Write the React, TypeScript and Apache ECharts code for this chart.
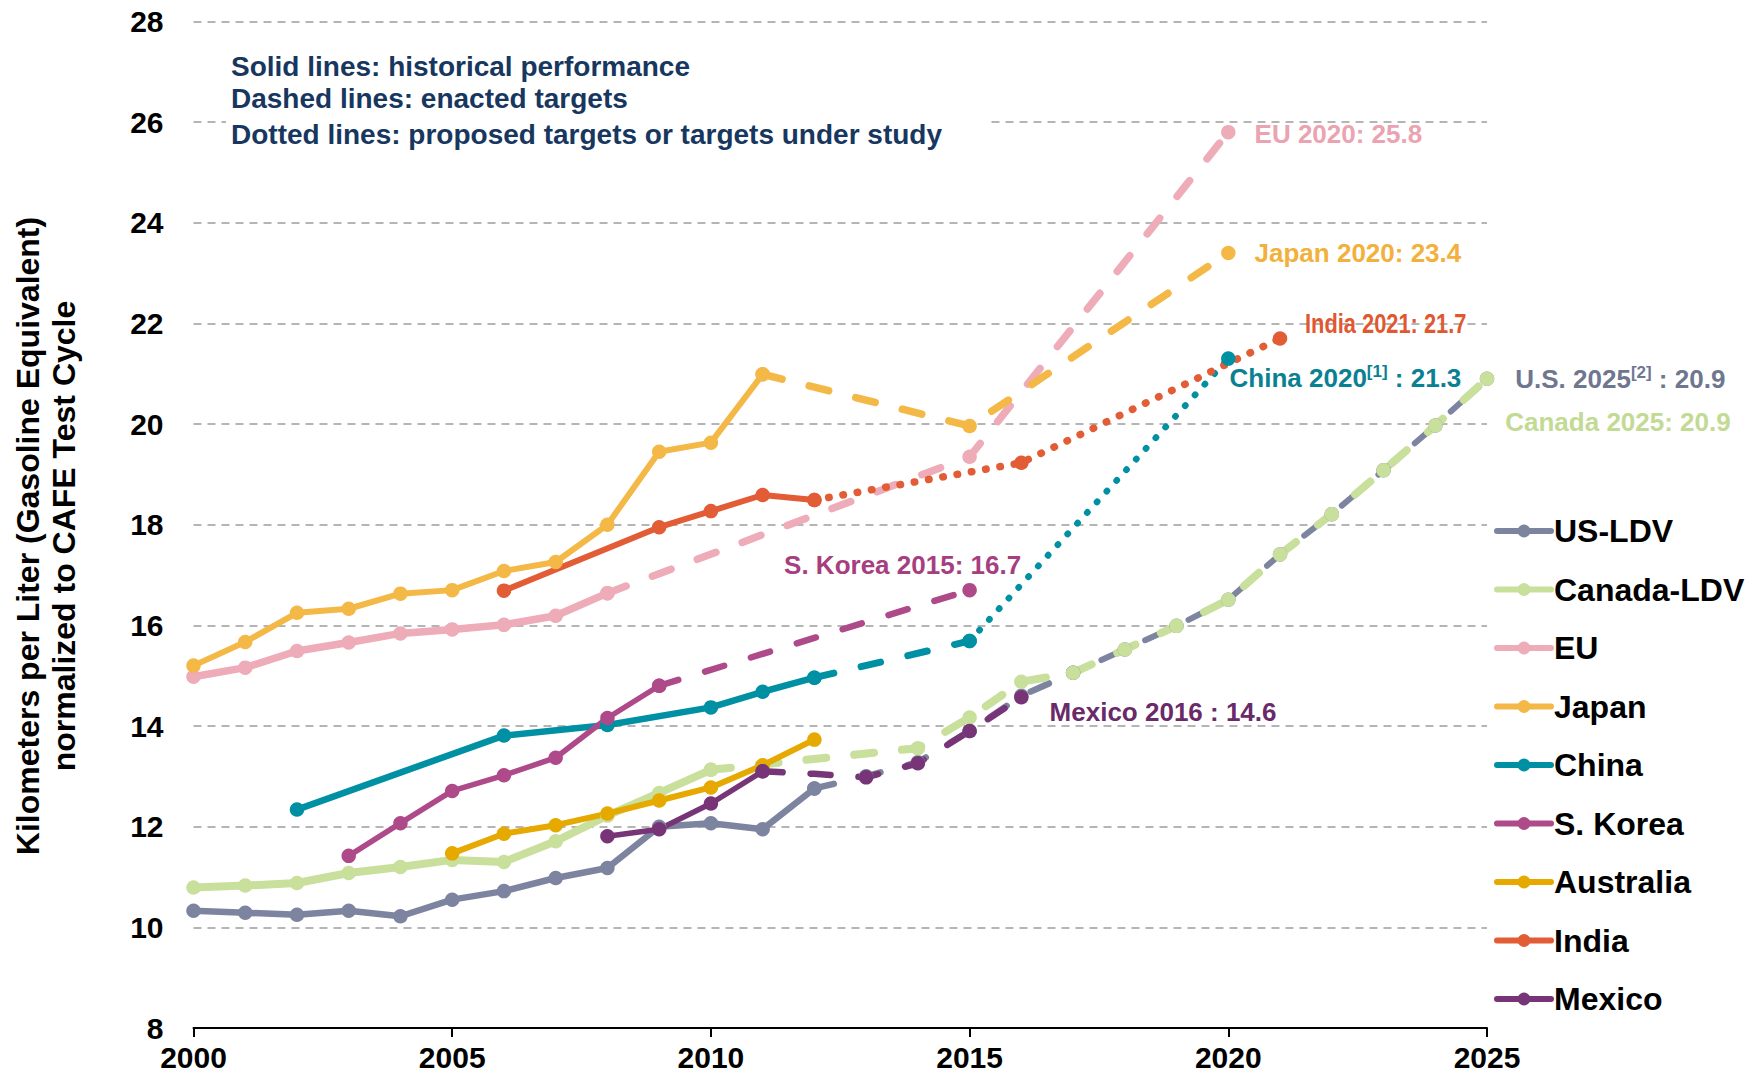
import React, { useEffect, useRef } from "react";
import * as echarts from "echarts";

const FONT = "'Liberation Sans', Arial, Helvetica, sans-serif";

// ---- axes ----
const xMin = 2000;
const xMax = 2025;
const xStep = 5;
const yMin = 8;
const yMax = 28;
const yStep = 2;

// ---- legend / series names ----
const seriesNames = ["US-LDV", "Canada-LDV", "EU", "Japan", "China", "S. Korea", "Australia", "India", "Mexico"];
const seriesColors = ["#7d849f", "#c9df9c", "#eeabb8", "#f4b847", "#0090a3", "#ae4a89", "#e5a900", "#e25d36", "#773578"];
const labelColors = ["#6f7690", "#c2da94", "#eba3b1", "#f2b03c", "#0a8193", "#a63e80", "#e5a900", "#df5832", "#6a2a69"];

// ---- US-LDV ----
const usHistYears = [2000, 2001, 2002, 2003, 2004, 2005, 2006, 2007, 2008, 2009, 2010, 2011, 2012];
const usHistValues = [10.33, 10.29, 10.25, 10.33, 10.22, 10.55, 10.72, 10.98, 11.18, 12.0, 12.07, 11.95, 12.76];
const usTargetYears = [2012, 2013, 2014, 2015, 2016, 2017, 2018, 2019, 2020, 2021, 2022, 2023, 2024, 2025];
const usTargetValues = [12.76, 13.0, 13.28, 13.9, 14.6, 15.06, 15.52, 15.99, 16.51, 17.41, 18.21, 19.08, 19.97, 20.9];

// ---- Canada-LDV ----
const caHistYears = [2000, 2001, 2002, 2003, 2004, 2005, 2006, 2007, 2008, 2009, 2010];
const caHistValues = [10.79, 10.83, 10.88, 11.08, 11.2, 11.34, 11.3, 11.71, 12.22, 12.67, 13.13];
const caTargetYears = [2010, 2014, 2015, 2016, 2017, 2018, 2019, 2020, 2021, 2022, 2023, 2024, 2025];
const caTargetValues = [13.13, 13.56, 14.17, 14.88, 15.06, 15.52, 15.99, 16.51, 17.41, 18.21, 19.08, 19.97, 20.9];

// ---- EU ----
const euHistYears = [2000, 2001, 2002, 2003, 2004, 2005, 2006, 2007, 2008];
const euHistValues = [14.98, 15.16, 15.49, 15.66, 15.84, 15.92, 16.01, 16.19, 16.64];
const euTargetYears = [2008, 2015, 2020];
const euTargetValues = [16.64, 19.35, 25.8];

// ---- Japan ----
const jpHistYears = [2000, 2001, 2002, 2003, 2004, 2005, 2006, 2007, 2008, 2009, 2010, 2011];
const jpHistValues = [15.2, 15.67, 16.25, 16.33, 16.63, 16.7, 17.08, 17.26, 18.0, 19.45, 19.63, 20.99];
const jpTargetYears = [2011, 2015, 2020];
const jpTargetValues = [20.99, 19.96, 23.4];

// ---- China ----
const cnHistYears = [2002, 2006, 2008, 2010, 2011, 2012];
const cnHistValues = [12.34, 13.81, 14.02, 14.37, 14.68, 14.96];
const cnTargetYears = [2012, 2015];
const cnTargetValues = [14.96, 15.69];
const cnProposedYears = [2015, 2020];
const cnProposedValues = [15.69, 21.3];

// ---- S. Korea ----
const krHistYears = [2003, 2004, 2005, 2006, 2007, 2008, 2009];
const krHistValues = [11.42, 12.07, 12.71, 13.02, 13.37, 14.16, 14.8];
const krTargetYears = [2009, 2015];
const krTargetValues = [14.8, 16.7];

// ---- Australia ----
const auHistYears = [2005, 2006, 2007, 2008, 2009, 2010, 2011, 2012];
const auHistValues = [11.47, 11.86, 12.03, 12.26, 12.52, 12.78, 13.22, 13.73];

// ---- India ----
const inHistYears = [2006, 2009, 2010, 2011, 2012];
const inHistValues = [16.69, 17.95, 18.27, 18.59, 18.49];
const inProposedYears = [2012, 2016, 2021];
const inProposedValues = [18.49, 19.23, 21.7];

// ---- Mexico ----
const mxHistYears = [2008, 2009, 2010, 2011];
const mxHistValues = [11.81, 11.95, 12.46, 13.1];
const mxTargetYears = [2011, 2012, 2013, 2014, 2015, 2016];
const mxTargetValues = [13.1, 13.05, 12.98, 13.26, 13.9, 14.57];

// ---- texts ----
const noteLines = [
  "Solid lines: historical performance",
  "Dashed lines: enacted targets",
  "Dotted lines: proposed targets or targets under study",
];
const yTitle = "Kilometers per Liter (Gasoline Equivalent)\nnormalized to CAFE Test Cycle";

const pairs = (xs: number[], ys: number[]) => xs.map((x, i) => [x, ys[i]]);

const DASH = [20, 28];
const DASH_PERIOD = 48;
const DOT = [0.5, 14];
const SPLIT_YEAR = 2017; // where the US target line starts to run on top of Canada's

function mkSeries(
  idx: number,
  xs: number[],
  ys: number[],
  kind: "solid" | "dashed" | "dotted",
  width: number,
  opts: any = {}
) {
  const color = seriesColors[idx];
  const data: any[] = pairs(xs, ys).map((p) => ({ value: p }));
  if (opts.noSymbolAt) {
    data.forEach((d) => {
      if (opts.noSymbolAt.includes(d.value[0])) d.symbol = "none";
    });
  }
  if (opts.endLabel) {
    const last = data[data.length - 1];
    last.label = Object.assign(
      {
        show: true,
        color: labelColors[idx],
        fontSize: 26,
        fontWeight: "bold",
        fontFamily: FONT,
      },
      opts.endLabel
    );
  }
  return {
    type: "line",
    id: opts.id,
    name: seriesNames[idx],
    data,
    symbol: "circle",
    symbolSize: 14.5,
    showSymbol: true,
    color,
    itemStyle: { color },
    lineStyle: {
      color,
      width,
      type: kind === "solid" ? "solid" : kind === "dashed" ? DASH : DOT,
      cap: "round",
      join: "round",
      dashOffset: opts.dashOffset || 0,
    },
    emphasis: { disabled: true },
    silent: true,
  };
}

export default function App() {
  const ref = useRef<HTMLDivElement>(null);

  useEffect(() => {
    if (!ref.current) return;
    const chart = echarts.init(ref.current, undefined, { renderer: "svg" });

    const fmt1 = (v: any) => Number(v).toFixed(1);
    const labelFmt = (prefix: string) => (p: any) => `${prefix}${fmt1(p.value[1])}`;

    const splitIdx = usTargetYears.indexOf(SPLIT_YEAR);
    const usT1Years = usTargetYears.slice(0, splitIdx + 1);
    const usT1Values = usTargetValues.slice(0, splitIdx + 1);
    const usT2Years = usTargetYears.slice(splitIdx);
    const usT2Values = usTargetValues.slice(splitIdx);

    const supRich = (c: string) => ({
      a: { fontSize: 26, fontWeight: "bold", color: c, fontFamily: FONT, lineHeight: 30 },
      s: { fontSize: 17, fontWeight: "bold", color: c, fontFamily: FONT, lineHeight: 18, verticalAlign: "top" },
    });

    const series: any[] = [
      // US-LDV
      mkSeries(0, usHistYears, usHistValues, "solid", 6.5),
      mkSeries(0, usT1Years, usT1Values, "dashed", 6.5),
      mkSeries(0, usT2Years, usT2Values, "dashed", 6, {
        id: "usT2",
        endLabel: {
          position: "right",
          distance: 21,
          formatter: (p: any) => `{a|U.S. 2025}{s|[2]}{a| : ${fmt1(p.value[1])}}`,
          rich: supRich(labelColors[0]),
        },
      }),
      // Canada
      mkSeries(1, caHistYears, caHistValues, "solid", 8),
      mkSeries(1, caTargetYears, caTargetValues, "dashed", 8, {
        endLabel: { position: "right", distance: 11, offset: [0, 43], formatter: labelFmt("Canada 2025: ") },
      }),
      // EU
      mkSeries(2, euHistYears, euHistValues, "solid", 7.5),
      mkSeries(2, euTargetYears, euTargetValues, "dashed", 7.5, {
        endLabel: { position: "right", distance: 19, offset: [0, 2], formatter: labelFmt("EU 2020: ") },
      }),
      // Japan
      mkSeries(3, jpHistYears, jpHistValues, "solid", 6),
      mkSeries(3, jpTargetYears, jpTargetValues, "dashed", 7.5, {
        endLabel: { position: "right", distance: 19, formatter: labelFmt("Japan 2020: ") },
      }),
      // China
      mkSeries(4, cnHistYears, cnHistValues, "solid", 6.5),
      mkSeries(4, cnTargetYears, cnTargetValues, "dashed", 7),
      mkSeries(4, cnProposedYears, cnProposedValues, "dotted", 6.5, {
        endLabel: {
          position: "right",
          distance: 0,
          offset: [-6, 19],
          formatter: (p: any) => `{a|China 2020}{s|[1]}{a| : ${fmt1(p.value[1])}}`,
          rich: supRich(labelColors[4]),
        },
      }),
      // S. Korea
      mkSeries(5, krHistYears, krHistValues, "solid", 5.5),
      mkSeries(5, krTargetYears, krTargetValues, "dashed", 6.5, {
        endLabel: { position: "inside", offset: [-67, -25], formatter: labelFmt("S. Korea 2015: ") },
      }),
      // Australia
      mkSeries(6, auHistYears, auHistValues, "solid", 6),
      // India
      mkSeries(7, inHistYears, inHistValues, "solid", 6),
      mkSeries(7, inProposedYears, inProposedValues, "dotted", 7.5),
      // Mexico
      mkSeries(8, mxHistYears, mxHistValues, "solid", 5.5),
      mkSeries(8, mxTargetYears, mxTargetValues, "dashed", 6.5, {
        noSymbolAt: [2012],
        endLabel: { position: "right", distance: 21, offset: [0, 15], formatter: labelFmt("Mexico 2016 : ") },
      }),
    ];

    const option: any = {
      animation: false,
      backgroundColor: "#ffffff",
      textStyle: { fontFamily: FONT },
      grid: { left: 193.5, right: 277, top: 21.4, bottom: 55, containLabel: false },
      xAxis: {
        type: "value",
        min: xMin,
        max: xMax,
        interval: xStep,
        axisLine: { show: true, onZero: false, lineStyle: { color: "#000", width: 2 } },
        axisTick: { show: true, length: 9, lineStyle: { color: "#000", width: 2 } },
        axisLabel: {
          fontSize: 30,
          fontWeight: "bold",
          color: "#000",
          fontFamily: FONT,
          margin: 14,
          formatter: (v: number) => String(v),
        },
        splitLine: { show: false },
      },
      yAxis: {
        type: "value",
        min: yMin,
        max: yMax,
        interval: yStep,
        axisLine: { show: false },
        axisTick: { show: false },
        axisLabel: { fontSize: 30, fontWeight: "bold", color: "#000", fontFamily: FONT, margin: 30 },
        splitLine: { show: true, lineStyle: { color: "#b5b5b5", width: 2, type: [8, 6] } },
      },
      legend: {
        data: seriesNames,
        orient: "vertical",
        left: 1494,
        top: 513,
        padding: 0,
        itemWidth: 54,
        itemHeight: 16,
        itemGap: 22.5,
        selectedMode: false,
        lineStyle: { width: 6 },
        textStyle: { fontSize: 32, fontWeight: "bold", color: "#000", fontFamily: FONT, lineHeight: 36, padding: [0, 0, 0, -2] },
      },
      graphic: [
        {
          type: "rect",
          id: "noteBg",
          z: 100,
          shape: { x: 226, y: 42, width: 764, height: 112 },
          style: { fill: "#ffffff" },
        },
        ...noteLines.map((t, i) => ({
          type: "text",
          id: "note" + i,
          z: 101,
          x: 231,
          y: [66, 98, 134][i],
          style: {
            text: t,
            fill: "#17375f",
            font: `bold 28px ${FONT}`,
            textAlign: "left",
            textVerticalAlign: "middle",
          },
        })),
        {
          type: "text",
          id: "yTitle",
          z: 101,
          x: 46,
          y: 536,
          rotation: Math.PI / 2,
          style: {
            text: yTitle,
            fill: "#000",
            font: `bold 32px ${FONT}`,
            textAlign: "center",
            textVerticalAlign: "middle",
            lineHeight: 36,
          },
        },
      ],
      series,
    };

    chart.setOption(option);

    try {
      // Phase the US dash pattern against Canada's where the two lines coincide,
      // so that the grey shows only in the gaps of the green dashes.
      const pts = caTargetYears.map((yr, i) => ({
        yr,
        p: chart.convertToPixel({ gridIndex: 0 }, [yr, caTargetValues[i]]) as number[],
      }));
      let L = 0;
      for (let i = 1; i < pts.length && pts[i].yr <= SPLIT_YEAR; i++) {
        const dx = pts[i].p[0] - pts[i - 1].p[0];
        const dy = pts[i].p[1] - pts[i - 1].p[1];
        L += Math.sqrt(dx * dx + dy * dy);
      }
      const off = (((L + 17) % DASH_PERIOD) + DASH_PERIOD) % DASH_PERIOD;

      // India end label: condensed type, anchored to the India 2021 point via the axes.
      const iLast = inProposedYears.length - 1;
      const ip = chart.convertToPixel({ gridIndex: 0 }, [inProposedYears[iLast], inProposedValues[iLast]]) as number[];

      chart.setOption({
        series: [{ id: "usT2", lineStyle: { dashOffset: off } }],
        graphic: [
          {
            type: "text",
            id: "indiaLabel",
            z: 50,
            x: ip[0] + 25,
            y: ip[1] - 16,
            scaleX: 0.78,
            scaleY: 1,
            style: {
              text: `India ${inProposedYears[iLast]}: ${fmt1(inProposedValues[iLast])}`,
              fill: labelColors[7],
              font: `bold 28px ${FONT}`,
              textAlign: "left",
              textVerticalAlign: "middle",
            },
          },
        ],
      });
    } catch (e) {
      // ignore
    }

    return () => chart.dispose();
  }, []);

  return (
    <div
      ref={ref}
      style={{ position: "absolute", left: 0, top: 0, width: 1764, height: 1083, background: "#fff" }}
    />
  );
}
